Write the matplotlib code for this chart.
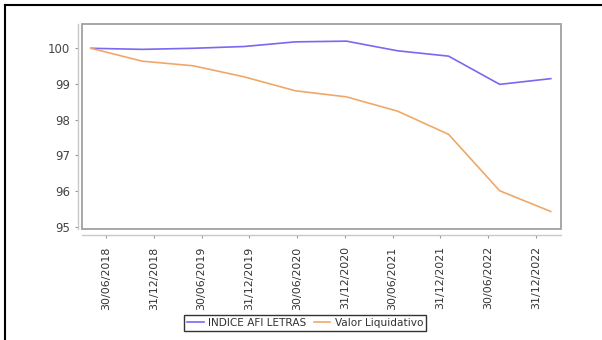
import matplotlib
matplotlib.use("Agg")
import matplotlib.pyplot as plt
import numpy as np
from matplotlib.lines import Line2D
from matplotlib.patches import Rectangle

# data
fechas = ["30/06/2018", "31/12/2018", "30/06/2019", "31/12/2019", "30/06/2020",
          "31/12/2020", "30/06/2021", "31/12/2021", "30/06/2022", "31/12/2022"]
indice_afi = [100.0, 99.97, 100.0, 100.05, 100.18, 100.2, 99.93, 99.78, 98.99, 99.15]
valor_liq = [100.0, 99.64, 99.51, 99.2, 98.81, 98.64, 98.24, 97.59, 96.01, 95.43]

W, H = 602, 340
fig = plt.figure(figsize=(W / 100, H / 100), dpi=100)

# frame lines of the original screenshot (top and left)
fig.add_artist(Line2D([4.5 / W, 1], [1 - 5 / H, 1 - 5 / H], color="black", lw=1.5))
fig.add_artist(Line2D([4.5 / W, 4.5 / W], [0, 1 - 5 / H], color="black", lw=1.5))

ax = fig.add_axes([82 / W, (H - 229) / H, (561 - 82) / W, (229 - 24) / H])

# spines first: moving them resets the tick labels
for s in ["top", "right"]:
    ax.spines[s].set_visible(False)
ax.spines["left"].set_position(("outward", 3))
ax.spines["bottom"].set_position(("outward", 4))
for s in ["left", "bottom"]:
    ax.spines[s].set_color("#c8c8c8")
    ax.spines[s].set_linewidth(1.0)

x = np.arange(len(fechas))
ax.plot(x, indice_afi, color="#7868f2", lw=1.2, label="INDICE AFI LETRAS")
ax.plot(x, valor_liq, color="#f0a868", lw=1.2, label="Valor Liquidativo")

ax.set_xlim(-0.176, 9.2)
ax.set_ylim(94.94, 100.68)

# category ticks sit slightly apart from the data points, as in the original
tick_pos = 0.294 + 0.935 * x
ax.set_xticks(tick_pos)
ax.set_xticklabels(fechas, rotation=90, fontsize=7.9, color="#333333")
ax.set_yticks([95, 96, 97, 98, 99, 100])
ax.set_yticklabels(["95", "96", "97", "98", "99", "100"], fontsize=8.5, color="#444444")
ax.tick_params(axis="both", length=2.5, width=0.8, color="#999999", pad=3)
ax.tick_params(axis="x", pad=6)

# plot box
ax.add_patch(Rectangle((0, 0), 1, 1, transform=ax.transAxes, fill=False,
                       edgecolor="#a0a0a0", lw=1.3, clip_on=False, zorder=5))

leg = fig.legend(loc="center", bbox_to_anchor=(305 / W, 1 - 323 / H), ncol=2,
                 fontsize=7.6, frameon=True, fancybox=False, handlelength=1.6,
                 handletextpad=0.4, columnspacing=0.7, borderpad=0.3,
                 borderaxespad=0, labelcolor="#333333")
leg.get_frame().set_edgecolor("black")
leg.get_frame().set_linewidth(1.0)

fig.savefig("out.png", dpi=100)
